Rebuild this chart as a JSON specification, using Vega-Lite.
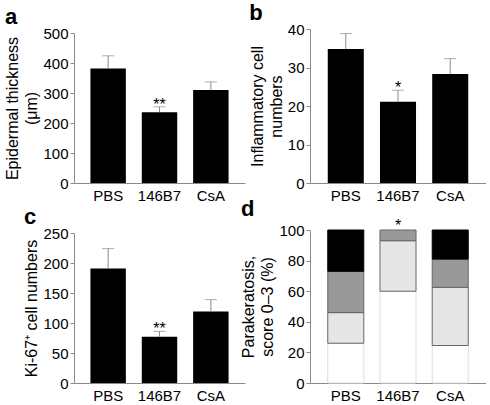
{
  "$schema": "https://vega.github.io/schema/vega-lite/v6.json",
  "padding": {"left": 4, "top": 2, "right": 0, "bottom": 0},
  "bounds": "flush",
  "columns": 2,
  "spacing": {"row": 46, "column": 65},
  "resolve": {"scale": {"x": "independent", "y": "independent"}},
  "config": {
    "font": "Liberation Sans",
    "view": {"stroke": null},
    "axis": {"domainColor": "#8a8a8a", "tickColor": "#8a8a8a", "labelFontSize": 15, "titleFontSize": 16, "titleFontWeight": "normal", "labelColor": "#000000", "titleColor": "#000000", "grid": false, "tickSize": 4, "labelPadding": 2, "labelOverlap": false},
    "axisX": {"ticks": false, "labelPadding": 5, "labelAngle": 0, "title": null},
    "axisY": {"titlePadding": 3, "titleLineHeight": 19},
    "title": {"anchor": "start", "frame": "bounds", "fontSize": 22, "fontWeight": "bold", "offset": -3, "color": "#000000"},
    "bar": {"color": "#000000"},
    "rule": {"color": "#8a8a8a", "strokeWidth": 1},
    "tick": {"color": "#8a8a8a", "thickness": 1},
    "text": {"fontSize": 16, "baseline": "alphabetic", "dy": 3, "color": "#000000"}
  },
  "concat": [
    {
      "title": {"text": "a"},
      "width": 171,
      "height": 154,
      "data": {"values": [
        {"group": "PBS", "mean": 382, "upper": 424, "sig": ""},
        {"group": "146B7", "mean": 236, "upper": 254, "sig": "**"},
        {"group": "CsA", "mean": 310, "upper": 337, "sig": ""}
      ]},
      "encoding": {"x": {"field": "group", "type": "nominal", "sort": null, "scale": {"paddingInner": 0.31, "paddingOuter": 0.32}}},
      "layer": [
        {"mark": "bar", "encoding": {"y": {"field": "mean", "type": "quantitative", "title": ["Epidermal thickness", "(μm)"], "scale": {"domain": [0, 500], "range": [154, 4], "nice": false}, "axis": {"values": [0, 100, 200, 300, 400, 500]}}}},
        {"mark": "rule", "encoding": {"y": {"field": "mean", "type": "quantitative", "title": ["Epidermal thickness", "(μm)"], "axis": {"values": [0, 100, 200, 300, 400, 500]}}, "y2": {"field": "upper"}}},
        {"mark": {"type": "tick", "size": 12}, "encoding": {"y": {"field": "upper", "type": "quantitative", "title": ["Epidermal thickness", "(μm)"], "axis": {"values": [0, 100, 200, 300, 400, 500]}}}},
        {"mark": {"type": "text"}, "encoding": {"y": {"field": "upper", "type": "quantitative", "title": ["Epidermal thickness", "(μm)"], "axis": {"values": [0, 100, 200, 300, 400, 500]}}, "text": {"field": "sig"}}}
      ]
    },
    {
      "title": {"text": "b"},
      "width": 176,
      "height": 154,
      "data": {"values": [
        {"group": "PBS", "mean": 34.8, "upper": 38.8, "sig": ""},
        {"group": "146B7", "mean": 21.1, "upper": 24.1, "sig": "*"},
        {"group": "CsA", "mean": 28.3, "upper": 32.3, "sig": ""}
      ]},
      "encoding": {"x": {"field": "group", "type": "nominal", "sort": null, "scale": {"paddingInner": 0.31, "paddingOuter": 0.34}}},
      "layer": [
        {"mark": "bar", "encoding": {"y": {"field": "mean", "type": "quantitative", "title": ["Inflammatory cell", "numbers"], "scale": {"domain": [0, 40], "range": [154, 0], "nice": false}, "axis": {"values": [0, 10, 20, 30, 40]}}}},
        {"mark": "rule", "encoding": {"y": {"field": "mean", "type": "quantitative", "title": ["Inflammatory cell", "numbers"], "axis": {"values": [0, 10, 20, 30, 40]}}, "y2": {"field": "upper"}}},
        {"mark": {"type": "tick", "size": 12}, "encoding": {"y": {"field": "upper", "type": "quantitative", "title": ["Inflammatory cell", "numbers"], "axis": {"values": [0, 10, 20, 30, 40]}}}},
        {"mark": {"type": "text"}, "encoding": {"y": {"field": "upper", "type": "quantitative", "title": ["Inflammatory cell", "numbers"], "axis": {"values": [0, 10, 20, 30, 40]}}, "text": {"field": "sig"}}}
      ]
    },
    {
      "title": {"text": "c"},
      "width": 171,
      "height": 154,
      "data": {"values": [
        {"group": "PBS", "mean": 191, "upper": 224, "sig": ""},
        {"group": "146B7", "mean": 77, "upper": 86, "sig": "**"},
        {"group": "CsA", "mean": 119, "upper": 139, "sig": ""}
      ]},
      "encoding": {"x": {"field": "group", "type": "nominal", "sort": null, "scale": {"paddingInner": 0.31, "paddingOuter": 0.32}}},
      "layer": [
        {"mark": "bar", "encoding": {"y": {"field": "mean", "type": "quantitative", "title": "Ki-67⁺ cell numbers", "scale": {"domain": [0, 250], "range": [154, 4], "nice": false}, "axis": {"values": [0, 50, 100, 150, 200, 250]}}}},
        {"mark": "rule", "encoding": {"y": {"field": "mean", "type": "quantitative", "title": "Ki-67⁺ cell numbers", "axis": {"values": [0, 50, 100, 150, 200, 250]}}, "y2": {"field": "upper"}}},
        {"mark": {"type": "tick", "size": 12}, "encoding": {"y": {"field": "upper", "type": "quantitative", "title": "Ki-67⁺ cell numbers", "axis": {"values": [0, 50, 100, 150, 200, 250]}}}},
        {"mark": {"type": "text"}, "encoding": {"y": {"field": "upper", "type": "quantitative", "title": "Ki-67⁺ cell numbers", "axis": {"values": [0, 50, 100, 150, 200, 250]}}, "text": {"field": "sig"}}}
      ]
    },
    {
      "title": {"text": "d"},
      "width": 176,
      "height": 154,
      "encoding": {"x": {"field": "group", "type": "nominal", "sort": null, "scale": {"domain": ["PBS", "146B7", "CsA"], "paddingInner": 0.31, "paddingOuter": 0.34}}},
      "layer": [
        {
          "data": {"values": [
            {"group": "PBS", "score": 0, "pct": 26},
            {"group": "PBS", "score": 1, "pct": 20},
            {"group": "PBS", "score": 2, "pct": 27},
            {"group": "PBS", "score": 3, "pct": 27},
            {"group": "146B7", "score": 0, "pct": 60},
            {"group": "146B7", "score": 1, "pct": 33},
            {"group": "146B7", "score": 2, "pct": 7},
            {"group": "CsA", "score": 0, "pct": 24.5},
            {"group": "CsA", "score": 1, "pct": 38},
            {"group": "CsA", "score": 2, "pct": 18.5},
            {"group": "CsA", "score": 3, "pct": 19}
          ]},
          "mark": {"type": "bar", "strokeWidth": 1},
          "encoding": {
            "y": {"field": "pct", "type": "quantitative", "stack": "zero", "title": ["Parakeratosis,", "score 0–3 (%)"], "scale": {"domain": [0, 100], "range": [154, 1], "nice": false}, "axis": {"values": [0, 20, 40, 60, 80, 100]}},
            "order": {"field": "score", "type": "quantitative"},
            "fill": {"field": "score", "type": "ordinal", "scale": {"domain": [0, 1, 2, 3], "range": ["#ffffff", "#e6e6e6", "#999999", "#000000"]}, "legend": null},
            "stroke": {"field": "score", "type": "ordinal", "scale": {"domain": [0, 1, 2, 3], "range": ["#dddddd", "#666666", "#666666", "#000000"]}, "legend": null}
          }
        },
        {
          "data": {"values": [{"group": "146B7", "top": 100, "sig": "*"}]},
          "mark": {"type": "text", "dy": 1},
          "encoding": {"y": {"field": "top", "type": "quantitative", "title": ["Parakeratosis,", "score 0–3 (%)"], "axis": {"values": [0, 20, 40, 60, 80, 100]}}, "text": {"field": "sig"}}
        }
      ]
    }
  ]
}
